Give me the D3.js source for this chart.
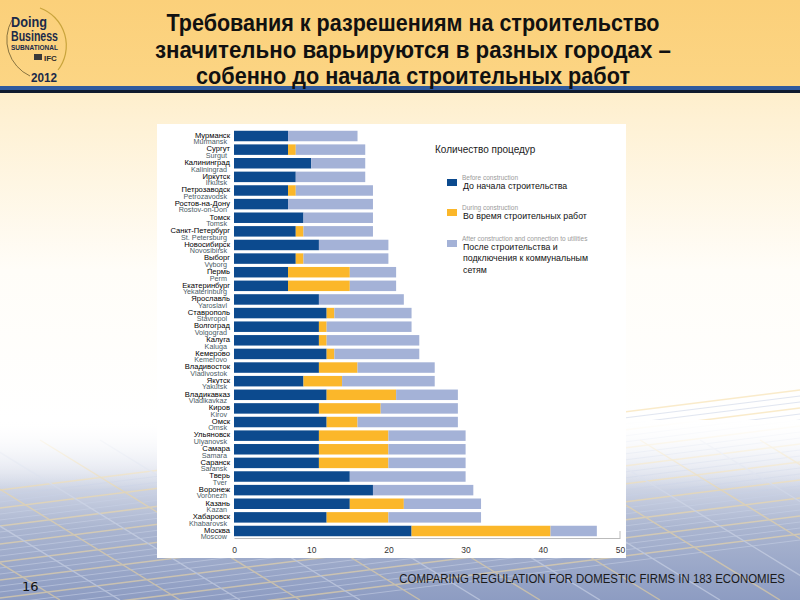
<!DOCTYPE html>
<html><head><meta charset="utf-8">
<script src="https://cdn.jsdelivr.net/npm/d3@7"></script>
<style>body{margin:0;overflow:hidden}svg{display:block}</style>
</head><body>
<svg id="c" width="800" height="600"></svg>
<script>
const citiesRu = ["Мурманск","Сургут","Калининград","Иркутск","Петрозаводск","Ростов-на-Дону","Томск","Санкт-Петербург","Новосибирск","Выборг","Пермь","Екатеринбург","Ярославль","Ставрополь","Волгоград","Калуга","Кемерово","Владивосток","Якутск","Владикавказ","Киров","Омск","Ульяновск","Самара","Саранск","Тверь","Воронеж","Казань","Хабаровск","Москва"];
const citiesEn = ["Murmansk","Surgut","Kaliningrad","Irkutsk","Petrozavodsk","Rostov-on-Don","Tomsk","St. Petersburg","Novosibirsk","Vyborg","Perm","Yekaterinburg","Yaroslavl","Stavropol","Volgograd","Kaluga","Kemerovo","Vladivostok","Yakutsk","Vladikavkaz","Kirov","Omsk","Ulyanovsk","Samara","Saransk","Tver","Voronezh","Kazan","Khabarovsk","Moscow"];
const beforeConstruction = [7,7,10,8,7,7,9,8,11,8,7,7,11,12,11,11,12,11,9,12,11,12,11,11,11,15,18,15,12,23];
const duringConstruction = [0,1,0,0,1,0,0,1,0,1,8,8,0,1,1,1,1,5,5,9,8,4,9,9,9,0,0,7,8,18];
const afterConstruction  = [9,9,7,9,10,11,9,9,9,11,6,6,11,10,11,12,11,10,12,8,10,13,10,10,10,15,13,10,12,6];
const seriesKeys = ["before","during","after"];
const legendRu = [["До начала строительства"],["Во время строительных работ"],["После строительства и","подключения к коммунальным","сетям"]];
const legendEn = ["Before construction","During construction","After construction and connection to utilities"];
const xTicks = [0,10,20,30,40,50];
const titleLines = ["Требования к разрешениям на строительство","значительно варьируются в разных городах –","собенно до начала строительных работ"];

const colors = {before:"#0c4a8e", during:"#fbb72a", after:"#a4b2d7"};
const svg = d3.select("#c");
const defs = svg.append("defs");
const narrow = "Liberation Sans Narrow, Liberation Sans, Arial";

// background
const bg = defs.append("linearGradient").attr("id","bg").attr("x1",0).attr("y1",0).attr("x2",0).attr("y2",1);
[[0,"#fde6b2"],[0.2,"#fef1d4"],[0.45,"#fffdf8"],[0.7,"#ffffff"],[0.78,"#dfe3ee"],[0.88,"#aab5d0"],[1,"#8d9cc2"]].forEach(s=>bg.append("stop").attr("offset",s[0]).attr("stop-color",s[1]));
svg.append("rect").attr("width",800).attr("height",600).attr("fill","url(#bg)");
const deco = svg.append("g").attr("opacity",0.55);
for(let i=0;i<26;i++){
  const y0 = 450 + i*6;
  deco.append("line").attr("x1",0).attr("y1",y0+40).attr("x2",800).attr("y2",y0-60)
    .attr("stroke", i%3===0 ? "#f6dca0" : "#c9d2e6").attr("stroke-width", i%3===0?1.6:1);
}
for(let i=0;i<18;i++){
  const x0 = -200 + i*60;
  deco.append("line").attr("x1",x0).attr("y1",440).attr("x2",x0+260).attr("y2",600)
    .attr("stroke", i%2===0 ? "#f3d89a" : "#d4dbeb").attr("stroke-width",1.4);
}
const fade = defs.append("linearGradient").attr("id","fade").attr("x1",0).attr("y1",0).attr("x2",0).attr("y2",1);
fade.append("stop").attr("offset",0).attr("stop-color","#fff").attr("stop-opacity",1);
fade.append("stop").attr("offset",1).attr("stop-color","#fff").attr("stop-opacity",0);
svg.append("rect").attr("x",0).attr("y",420).attr("width",800).attr("height",70).attr("fill","url(#fade)");

// header band
const hg = defs.append("linearGradient").attr("id","hg").attr("x1",0).attr("y1",0).attr("x2",0).attr("y2",1);
hg.append("stop").attr("offset",0).attr("stop-color","#fbd07a");
hg.append("stop").attr("offset",1).attr("stop-color","#fcd584");
svg.append("rect").attr("width",800).attr("height",86).attr("fill","url(#hg)");
svg.append("rect").attr("y",86).attr("width",800).attr("height",4).attr("fill","#2f5a9e");
svg.append("rect").attr("y",90).attr("width",800).attr("height",3).attr("fill","#0f1a2e");

// logo
const logo = svg.append("g");
logo.append("path").attr("d","M 40 8 A 40 40 0 0 1 58 70").attr("fill","none").attr("stroke","#c9a43c").attr("stroke-width",1.2);
logo.append("path").attr("d","M 12 20 A 40 40 0 0 0 30 76").attr("fill","none").attr("stroke","#6b5a2e").attr("stroke-width",0.8);
logo.append("text").attr("x",11).attr("y",27).text("Doing").attr("font-family",narrow).attr("font-weight","bold").attr("font-size",15).attr("fill","#1a2a4a").attr("textLength",36).attr("lengthAdjust","spacingAndGlyphs");
logo.append("text").attr("x",11).attr("y",41).text("Business").attr("font-family",narrow).attr("font-weight","bold").attr("font-size",15).attr("fill","#1a2a4a").attr("textLength",47).attr("lengthAdjust","spacingAndGlyphs");
logo.append("text").attr("x",11).attr("y",50).text("SUBNATIONAL").attr("font-family",narrow).attr("font-weight","bold").attr("font-size",7.2).attr("fill","#1a2a4a").attr("textLength",47).attr("lengthAdjust","spacingAndGlyphs");
logo.append("rect").attr("x",34).attr("y",54).attr("width",8).attr("height",6).attr("fill","#3a3a3a");
logo.append("text").attr("x",44).attr("y",60.5).text("IFC").attr("font-family","Liberation Sans, Arial").attr("font-weight","bold").attr("font-size",8).attr("fill","#2a2a2a");
logo.append("text").attr("x",31).attr("y",82).text("2012").attr("font-family",narrow).attr("font-weight","bold").attr("font-size",12).attr("fill","#1a2a4a").attr("textLength",26).attr("lengthAdjust","spacingAndGlyphs");

// title
const titleLens = [493, 516, 434];
svg.append("g").selectAll("text").data(titleLines).join("text")
  .attr("x",(d,i)=>413-titleLens[i]/2).attr("y",(d,i)=>31+i*26.5)
  .attr("textLength",(d,i)=>titleLens[i]).attr("lengthAdjust","spacingAndGlyphs")
  .attr("font-family",narrow).attr("font-weight","bold")
  .attr("font-size",24).attr("fill","#111").text(d=>d);

// panel
svg.append("rect").attr("x",157).attr("y",124).attr("width",469).attr("height",434).attr("fill","#fff");

// data
const data = citiesRu.map((c,i)=>({city:c, en:citiesEn[i], before:beforeConstruction[i], during:duringConstruction[i], after:afterConstruction[i]}));
const x = d3.scaleLinear().domain([0,50]).range([234,620]);
const y = d3.scaleBand().domain(citiesRu).range([129.2,537.8]).paddingInner(0.23).paddingOuter(0.115);
const stack = d3.stack().keys(seriesKeys)(data);

svg.append("g").selectAll("g").data(stack).join("g").attr("fill",s=>colors[s.key])
  .selectAll("rect").data(s=>s).join("rect")
  .attr("x",d=>x(d[0])).attr("width",d=>x(d[1])-x(d[0]))
  .attr("y",d=>y(d.data.city)).attr("height",y.bandwidth());

// labels
const lab = svg.append("g");
lab.selectAll("text.en").data(data).join("text").attr("class","en")
  .attr("x",227).attr("y",d=>y(d.city)+y.bandwidth()/2+8.3).attr("text-anchor","end")
  .attr("font-family",narrow).attr("font-size",7.2).attr("fill","#4b5c66").text(d=>d.en);
lab.selectAll("text.ru").data(data).join("text").attr("class","ru")
  .attr("x",230).attr("y",d=>y(d.city)+y.bandwidth()/2+1.8).attr("text-anchor","end")
  .attr("font-family",narrow).attr("font-size",7.6).attr("fill","#000").text(d=>d.city);

// axis
const ax = svg.append("g").attr("transform","translate(0,538)")
  .call(d3.axisBottom(x).tickValues(xTicks).tickSize(0).tickPadding(9).tickFormat(d3.format("d")));
ax.select(".domain").attr("stroke","#bbb");
ax.selectAll("text").attr("font-family",narrow).attr("font-size",8.5).attr("fill","#333");
svg.append("line").attr("x1",x(50)).attr("x2",x(50)).attr("y1",531).attr("y2",538).attr("stroke","#bbb");

// legend
const lg = svg.append("g");
lg.append("text").attr("x",435).attr("y",153).text("Количество процедур").attr("font-family","Liberation Sans, Arial").attr("font-size",10).attr("fill","#222");
const ly = [184,214,245];
seriesKeys.forEach((k,i)=>{
  lg.append("rect").attr("x",447).attr("y",ly[i]-5).attr("width",10).attr("height",7).attr("fill",colors[k]);
  lg.append("text").attr("x",462).attr("y",ly[i]-4).text(legendEn[i]).attr("font-family","Liberation Sans, Arial").attr("font-size",6.5).attr("fill","#9a9a9a");
  legendRu[i].forEach((t,j)=>lg.append("text").attr("x",463).attr("y",ly[i]+4.5+j*11.5).text(t).attr("font-family","Liberation Sans, Arial").attr("font-size",8.8).attr("fill","#111"));
});

// footer
svg.append("g").attr("transform","translate(785,583) scale(0.88,1)")
  .append("text").attr("x",0).attr("y",0).attr("text-anchor","end").text("COMPARING REGULATION FOR DOMESTIC FIRMS IN 183 ECONOMIES")
  .attr("font-family",narrow).attr("font-size",13).attr("fill","#1a1a1a");
svg.append("text").attr("x",22).attr("y",591).text("16").attr("font-family","DejaVu Sans, Arial").attr("font-size",13).attr("fill","#111");
</script>
</body></html>
